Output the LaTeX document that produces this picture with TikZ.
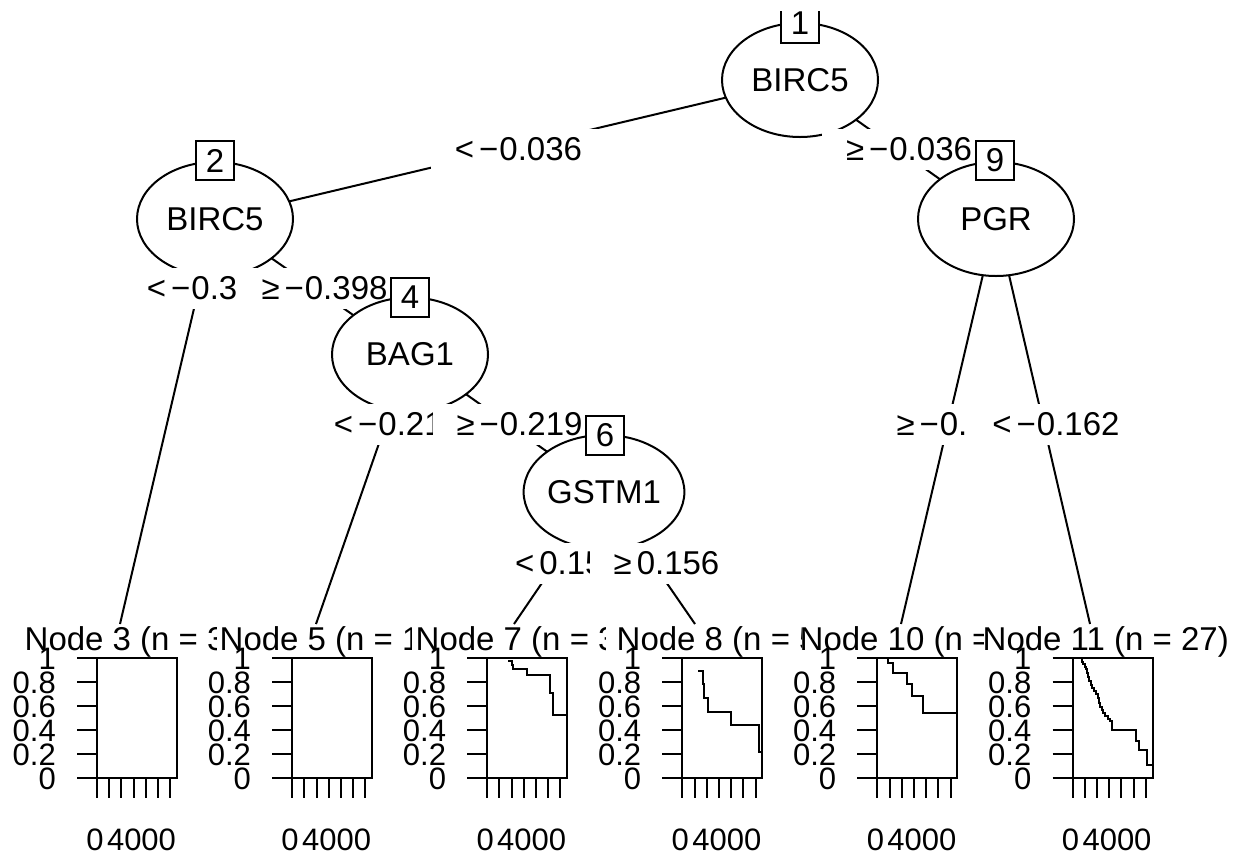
\documentclass[tikz,border=0pt]{standalone}
\usepackage{fontspec}
\setmainfont{Liberation Sans}
\usetikzlibrary{shapes.geometric}

% axes, ticks and frame of one survival panel: #1 = left edge of plot frame, #2 = name prefix
\newcommand\survaxes[2]{%
  \draw[frame] (#1,658) rectangle ({#1+80},778);
  \foreach \j in {0,...,6}
    \draw[tick] ({#1+12.2*\j},778) -- ({#1+12.2*\j},798);
  \foreach \v/\t in {0/0,1/0.2,2/0.4,3/0.6,4/0.8,5/1}{
    \draw[tick] ({#1-20},{778-24*\v}) -- (#1,{778-24*\v});
    \node[axlbl,anchor=east] (#2y\v) at ({#1-41},{778-24*\v}) {\t};
  }
  \node[axlbl] (#2xa) at ({#1-2},839) {0};
  \node[axlbl] (#2xb) at ({#1+44.5},839) {4000};
}

\begin{document}
\begin{tikzpicture}[
  x=1pt, y=-1pt,
  txt/.style={font=\fontsize{33}{39}\selectfont},
  split/.style={txt, ellipse, draw, line width=2pt, fill=white,
    minimum width=156pt, minimum height=114pt, inner sep=0pt},
  idbox/.style={txt, draw, line width=2pt, fill=white,
    minimum width=38pt, minimum height=39pt, inner sep=0pt},
  cut/.style={txt, fill=white, inner xsep=24pt, inner ysep=0pt,
    minimum height=41pt, text height=23pt, text depth=0pt},
  edge/.style={line width=2pt},
  frame/.style={line width=2pt},
  tick/.style={line width=2pt},
  km/.style={line width=2pt, line join=miter},
  axlbl/.style={font=\fontsize{31}{37}\selectfont, inner sep=0pt,
    text height=22pt, text depth=0pt},
  ttl/.style={txt, inner sep=0pt, anchor=base west},
  band/.style={fill=white},
]
\useasboundingbox (0,0) rectangle (1238,852);
\fill[white] (0,0) rectangle (1238,852);

% node positions
\coordinate (c1) at (800,80);
\coordinate (c2) at (215,219);
\coordinate (c4) at (410,354.5);
\coordinate (c6) at (604,492);
\coordinate (c9) at (996,219);
\coordinate (t3) at (120,624);
\coordinate (t5) at (316,624);
\coordinate (t7) at (514,624);
\coordinate (t8) at (695,624);
\coordinate (t10) at (901,624);
\coordinate (t11) at (1090,624);

% edges
\draw[edge] (c1) -- (c2);
\draw[edge] (c1) -- (c9);
\draw[edge] (c2) -- (t3);
\draw[edge] (c2) -- (c4);
\draw[edge] (c4) -- (t5);
\draw[edge] (c4) -- (c6);
\draw[edge] (c6) -- (t7);
\draw[edge] (c6) -- (t8);
\draw[edge] (c9) -- (t10);
\draw[edge] (c9) -- (t11);

% node 1
\node[split] (n1) at (c1) {BIRC5};
\begin{scope}
  \clip (700,11.5) rectangle (900,60);
  \node[idbox] (b1) at (800,23) {1};
\end{scope}
\node[cut] (e12) at (518.5,149) {<\kern5pt−\kern1pt0.036};
\node[cut] (e19) at (909,149) {≥\kern5pt−\kern1pt0.036};

% node 2
\node[split] (n2) at (c2) {BIRC5};
\node[idbox] (b2) at (215,160.5) {2};
\node[cut] (e23) at (210.5,288) {<\kern5pt−\kern1pt0.398};
\node[cut] (e24) at (324.5,288) {≥\kern5pt−\kern1pt0.398};

% node 4
\node[split] (n4) at (c4) {BAG1};
\node[idbox] (b4) at (410,297.5) {4};
\node[cut] (e45) at (397.5,424) {<\kern5pt−\kern1pt0.219};
\node[cut] (e46) at (519.5,424) {≥\kern5pt−\kern1pt0.219};

% node 6
\node[split] (n6) at (c6) {GSTM1};
\node[idbox] (b6) at (605,435) {6};
\node[cut] (e67) at (568.5,563) {<\kern5pt0.156};
\node[cut] (e68) at (666.5,563) {≥\kern5pt0.156};

% terminal node 3
\node[ttl] (h3) at (24.5,650) {Node 3 (n = 3};
\survaxes{97}{p3}

% terminal node 5
\fill[band] (217,625) rectangle (412,662);
\node[ttl] (h5) at (219.5,650) {Node 5 (n = 1};
\survaxes{292.1}{p5}

% terminal node 7
\fill[band] (412,625) rectangle (606,662);
\node[ttl] (h7) at (415.5,650) {Node 7 (n = 3};
\survaxes{487.2}{p7}
\draw[km] (508.3,661) -| (511.7,665) -| (513.3,669) -| (526.7,675)
  -| (550,692.7) -| (553.3,715) -- (567.2,715);

% terminal node 8
\fill[band] (606,625) rectangle (802,662);
\node[ttl] (h8) at (616.5,650) {Node 8 (n = 5};
\survaxes{682.3}{p8}
\draw[km] (698.3,671) -| (702.7,684.3) -| (704.3,697.7) -| (707.7,711.7)
  -| (730.7,725) -| (759.3,752.3) -- (762.3,752.3);

% node 9
\node[split] (n9) at (c9) {PGR};
\node[idbox] (b9) at (995,160.5) {9};
\node[cut] (e910) at (959.5,424) {≥\kern5pt−\kern1pt0.162};
\node[cut] (e911) at (1056,424) {<\kern5pt−\kern1pt0.162};

% terminal node 10
\fill[band] (802,625) rectangle (984,662);
\node[ttl] (h10) at (799.5,650) {Node 10 (n =};
\survaxes{877.4}{p10}
\draw[km] (888.3,658) -| (888.3,663) -| (892.7,672.5) -| (906.5,684)
  -| (911.7,696) -| (922.5,712.5) -- (957.4,712.5);

% terminal node 11
\fill[band] (984,625) rectangle (1238,662);
\node[ttl] (h11) at (982.5,650) {Node 11 (n = 27)};
\survaxes{1072.5}{p11}
\draw[km] (1081.7,659) -| (1081.7,661.7) -| (1083.2,664) -| (1084.7,666.5)
  -| (1086.2,669) -| (1087.3,673) -| (1088.3,677) -| (1089.3,681)
  -| (1090.5,684.5) -| (1092.3,687.5) -| (1094.2,690.5) -| (1096,694)
  -| (1097.7,698) -| (1099.2,702.5) -| (1100.4,706.5) -| (1101.8,710)
  -| (1103.3,713) -| (1105.4,716) -| (1107.6,718.5) -| (1110,721)
  -| (1111.9,729.5) -| (1135.5,741) -| (1138.8,749.7) -| (1147,764.7)
  -- (1152.5,764.7);
\end{tikzpicture}
\end{document}
